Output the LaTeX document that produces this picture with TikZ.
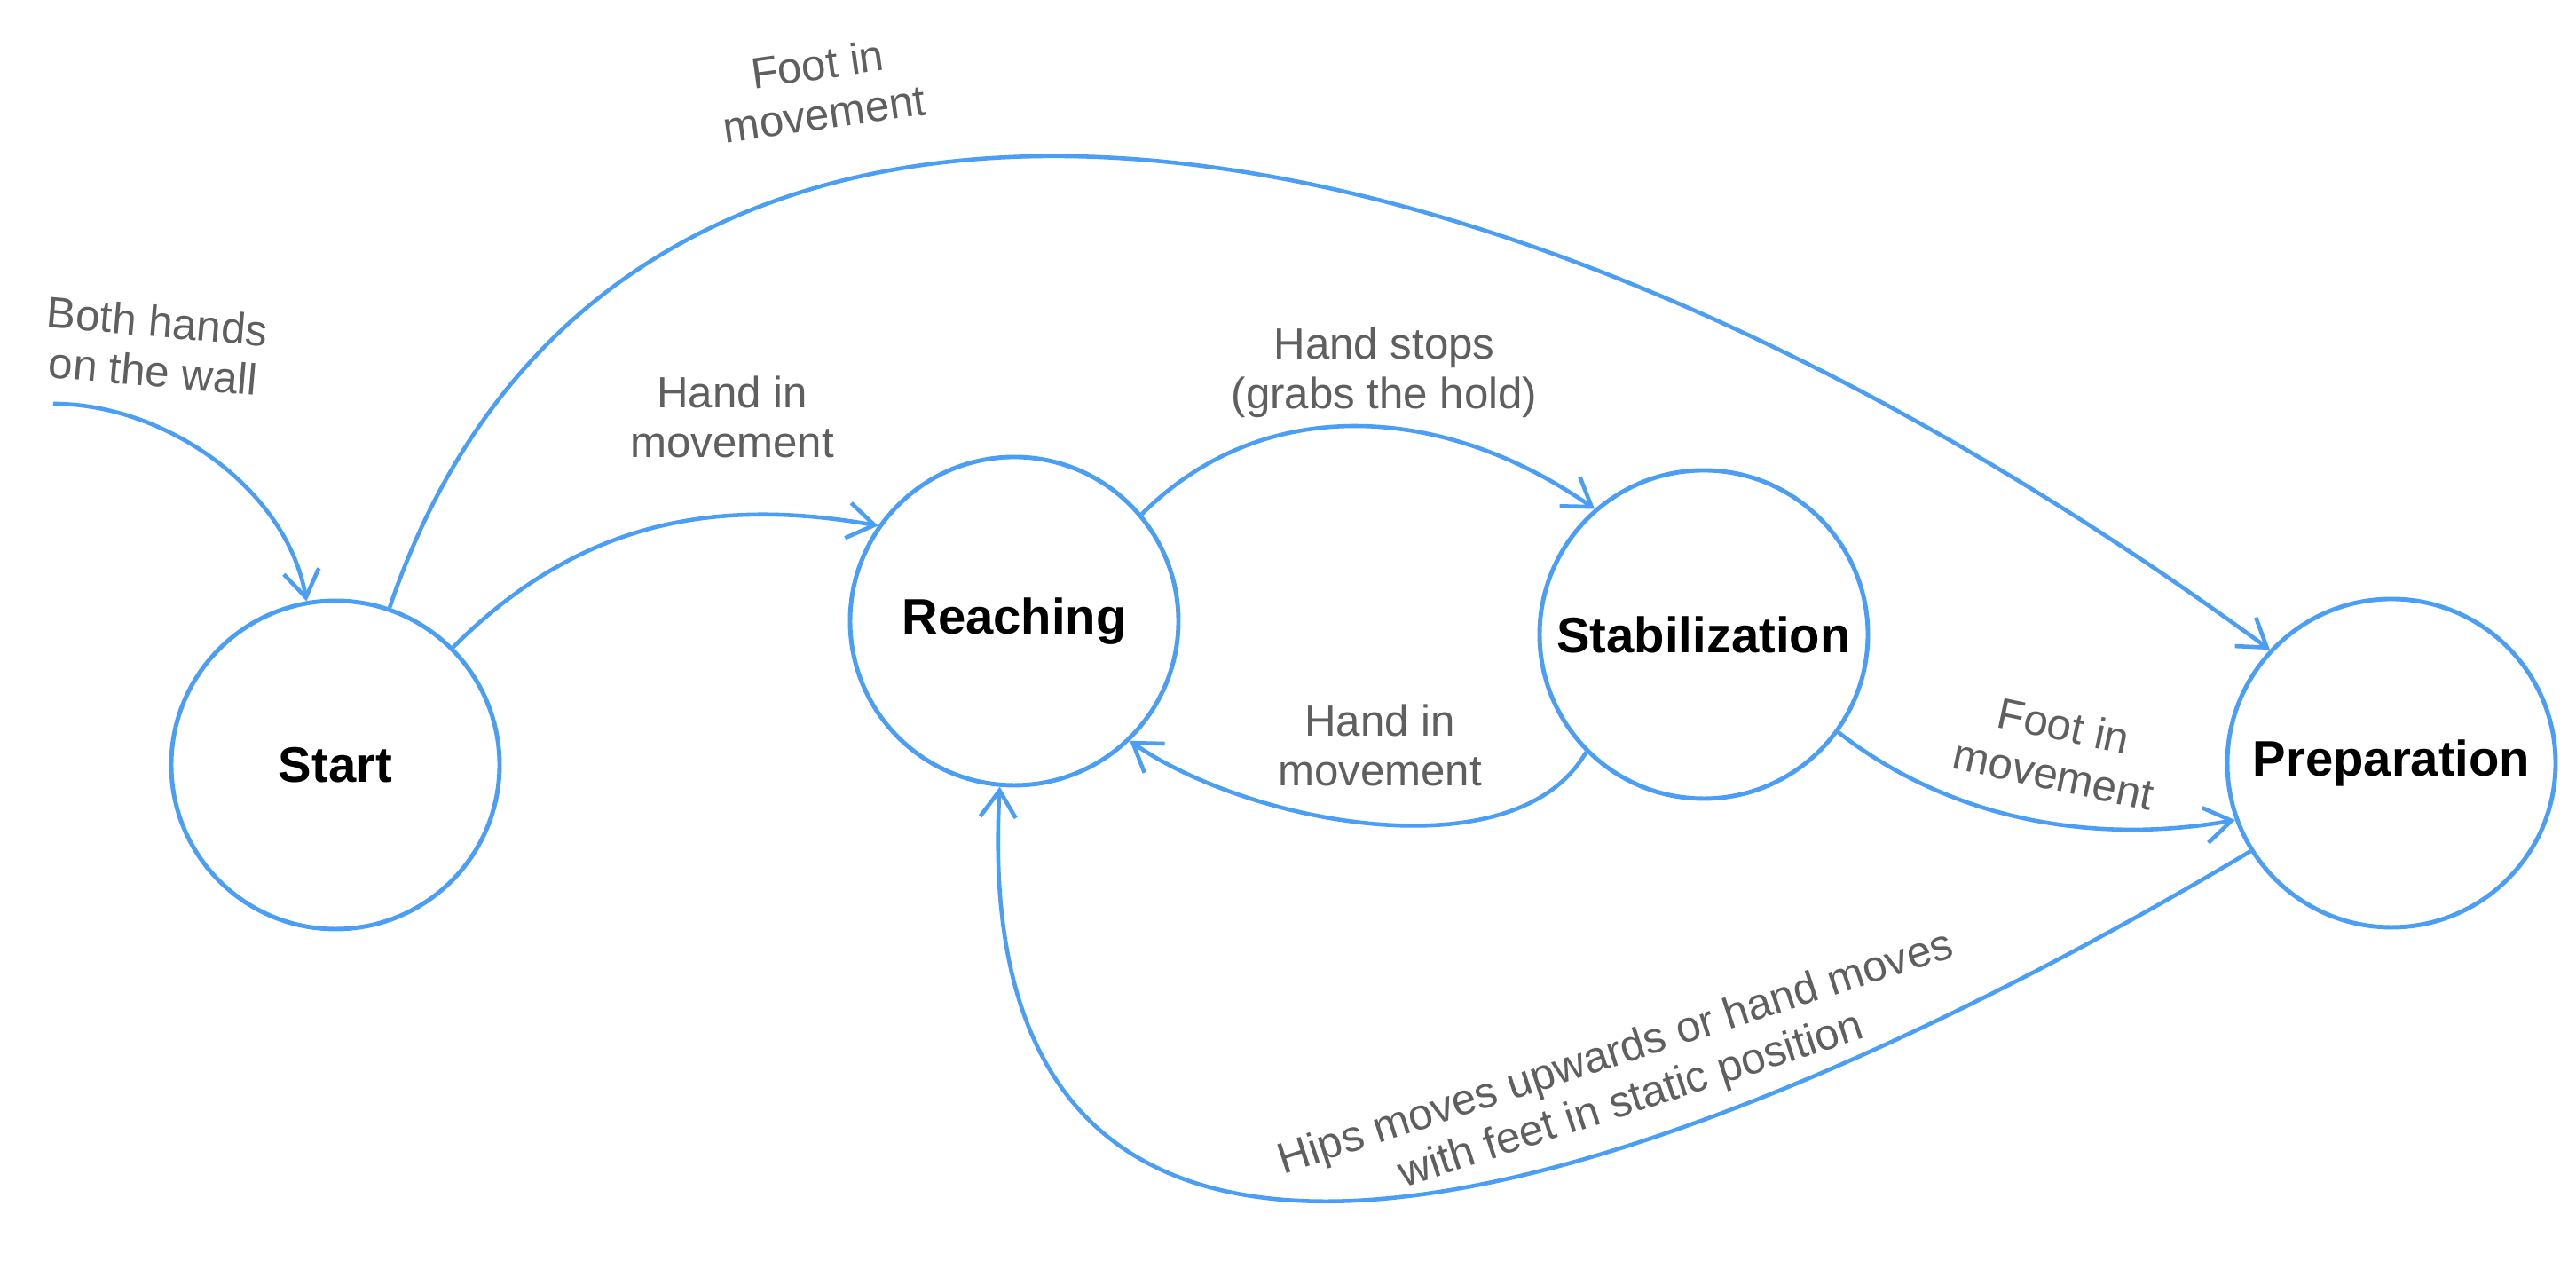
\documentclass[tikz,border=0pt]{standalone}
\usepackage{fontspec}
\setmainfont{Liberation Sans}
\usetikzlibrary{arrows.meta}
\definecolor{eblue}{RGB}{74,158,245}
\definecolor{lgray}{RGB}{95,95,95}
\begin{document}
\begin{tikzpicture}[
  st/.style={circle,draw=eblue,line width=1.4pt,minimum size=3.7cm,font=\fontsize{16}{18}\selectfont\bfseries,inner sep=0pt},
  ed/.style={draw=eblue,line width=1.3pt,-{Straight Barb[length=3mm,width=4mm]}},
  lb/.style={text=lgray,font=\fontsize{14}{16}\selectfont,align=center}]
\useasboundingbox (0,0) rectangle (29.03,14.30);
\node[st] (start) at (3.78,5.68) {Start};
\node[st] (reach) at (11.43,7.30) {Reaching};
\node[st] (stab) at (19.20,7.15) {Stabilization};
\node[st] (prep) at (26.95,5.70) {Preparation};
\coordinate (init) at (0.6,9.75);
\draw[ed] (init) to[out=0,in=100,looseness=0.9] (start);
\draw[ed] (start.45) to[out=45,in=170] (reach.145);
\draw[ed] (start.71) .. controls (6.8,14.6) and (16,14.0) .. (prep.137);
\draw[ed] (reach.40) to[out=45,in=145] (stab.131);
\draw[ed] (stab.225) to[out=-120,in=-35,looseness=0.8] (reach.314);
\draw[ed] (stab.-36) to[out=-38,in=190,looseness=0.9] (prep.200);
\draw[ed] (prep.212) .. controls (20.5,1.8) and (10.8,-2.8) .. (reach.265);
\node[lb,rotate=-5] (l1) at (1.75,10.4) {Both hands\\on the wall};
\node[lb] (l2) at (8.25,9.6) {Hand in\\movement};
\node[lb,rotate=8] (l3) at (9.25,13.3) {Foot in\\movement};
\node[lb] (l4) at (15.6,10.1) {Hand stops\\(grabs the hold)};
\node[lb] (l5) at (15.55,5.9) {Hand in\\movement};
\node[lb,rotate=-12] (l6) at (23.2,5.85) {Foot in\\movement};
\node[lb,rotate=18] (l7) at (18.3,2.15) {Hips moves upwards or hand moves\\with feet in static position};
\end{tikzpicture}
\end{document}
